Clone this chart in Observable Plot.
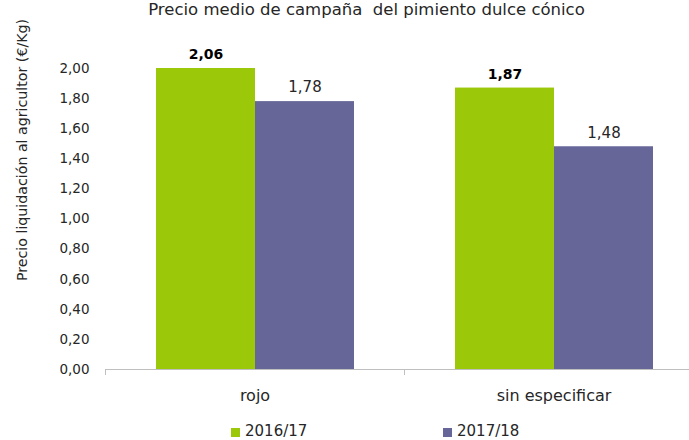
<!DOCTYPE html>
<html><head><meta charset="utf-8">
<script src="https://cdn.jsdelivr.net/npm/d3@7"></script>
<script src="https://cdn.jsdelivr.net/npm/@observablehq/plot@0.6"></script>
<style>
body{margin:0;background:#fff;font-family:"DejaVu Sans", sans-serif;color:#262626;}
#wrap{position:relative;width:689px;height:440px;overflow:hidden;}
#title{height:22px;line-height:20px;font-size:16.5px;white-space:pre;text-align:center;padding-left:44px;box-sizing:border-box;}
#chart{height:398px;}
#legend{position:relative;height:20px;font-size:15px;}
.sw{position:absolute;top:8px;width:9px;height:9px;}
.lt{position:absolute;top:2px;line-height:18px;}
#ylabel{position:absolute;left:22px;top:150px;transform:translate(-50%,-50%) rotate(-90deg);white-space:nowrap;font-size:14.2px;}
</style></head><body>
<div id="wrap">
<div id="title">Precio medio de campaña  del pimiento dulce cónico</div>
<div id="chart"></div>
<div id="legend"></div>
<div id="ylabel">Precio liquidación al agricultor (€/Kg)</div>
</div>
<script>
const categories = ["rojo", "sin especificar"];
const seasons = ["2016/17", "2017/18"];
const values2016 = [2.06, 1.87];
const values2017 = [1.78, 1.48];
const colors = ["#9bc808", "#666699"];
const yTicks = [0, 0.2, 0.4, 0.6, 0.8, 1.0, 1.2, 1.4, 1.6, 1.8, 2.0];

const data = [];
categories.forEach((c, i) => {
  data.push({cat: c, season: seasons[0], value: values2016[i]});
  data.push({cat: c, season: seasons[1], value: values2017[i]});
});
const fmt = d => d.toFixed(2).replace(".", ",");

const chart = Plot.plot({
  width: 689,
  height: 398,
  marginTop: 46,
  marginBottom: 51,
  marginLeft: 104,
  marginRight: -14,
  style: {fontFamily: "'DejaVu Sans', sans-serif", color: "#262626", background: "transparent"},
  fx: {domain: categories, paddingInner: 0, paddingOuter: 0},
  x: {domain: seasons, paddingInner: 0, paddingOuter: 0.5, axis: null},
  y: {domain: [0, 2], clamp: true},
  color: {domain: seasons, range: colors},
  marks: [
    Plot.barY(data, {fx: "cat", x: "season", y: "value", fill: "season"}),
    Plot.ruleY([0], {stroke: "#bfbfbf"}),
    Plot.frame({anchor: "left", stroke: "#bfbfbf", insetTop: 301, insetBottom: -5}),
    Plot.frame({anchor: "right", stroke: "#bfbfbf", insetTop: 301, insetBottom: -5}),
    Plot.text(data.filter(d => d.season === seasons[0]), {fx: "cat", x: "season", y: "value", text: d => fmt(d.value), dy: -14, fontSize: 14, fontWeight: "bold", fill: "#000"}),
    Plot.text(data.filter(d => d.season === seasons[1]), {fx: "cat", x: "season", y: "value", text: d => fmt(d.value), dy: -14, fontSize: 15, fill: "#262626"}),
    Plot.axisY({ticks: yTicks, tickFormat: fmt, tickSize: 0, tickPadding: 16, label: null, fontSize: 13.5}),
    Plot.axisFx({anchor: "bottom", tickSize: 0, tickPadding: 20, label: null, fontSize: 16})
  ]
});
document.getElementById("chart").appendChild(chart);

const legend = document.getElementById("legend");
const swX = [231, 443];
seasons.forEach((s, i) => {
  const sw = document.createElement("div");
  sw.className = "sw"; sw.style.left = swX[i] + "px"; sw.style.background = colors[i];
  const t = document.createElement("div");
  t.className = "lt"; t.style.left = (swX[i] + 14) + "px"; t.textContent = s;
  legend.appendChild(sw); legend.appendChild(t);
});
</script>
</body></html>
